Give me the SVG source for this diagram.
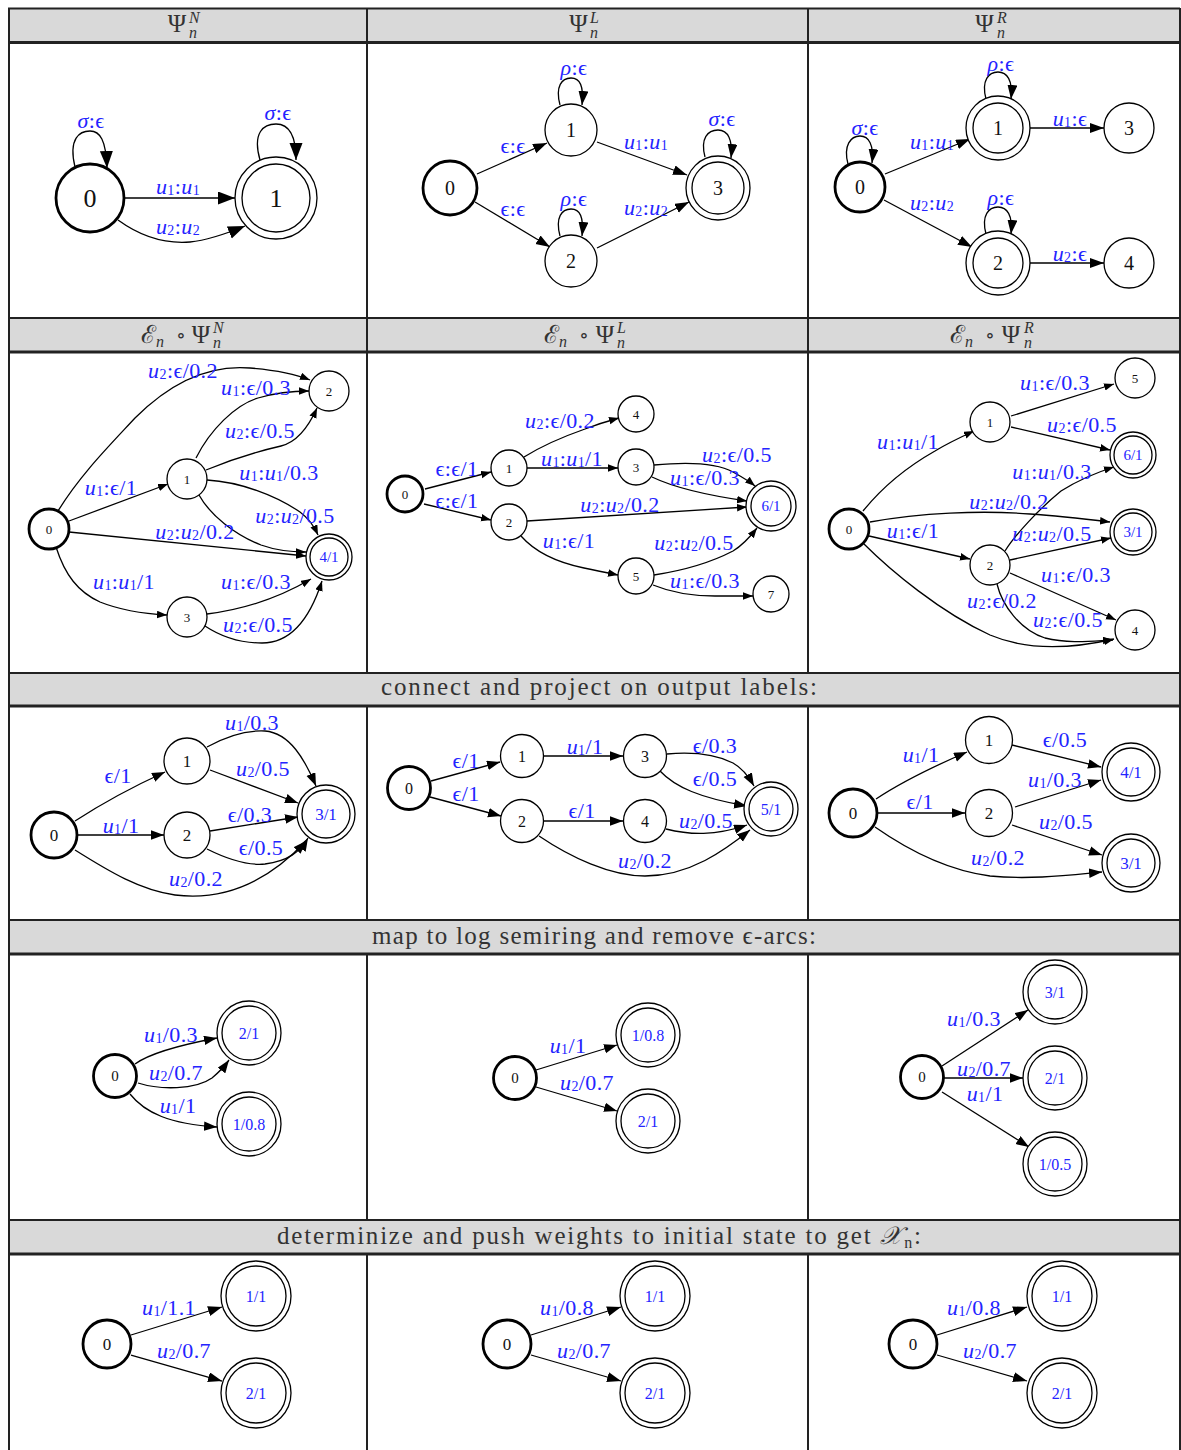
<svg xmlns="http://www.w3.org/2000/svg" width="1181" height="1450" viewBox="0 0 1181 1450">
<defs>
<style>
.hdr{fill:#d9d9d9}
.g2{stroke:#222;stroke-width:2;fill:none}
.g3{stroke:#222;stroke-width:3;fill:none}
.ht{font-family:"Liberation Serif","DejaVu Serif",serif;fill:#333}
.hm{text-anchor:middle}
.e{fill:none;stroke:#000;stroke-width:1.3}
.n{fill:#fff;stroke:#000;stroke-width:1.3}
.b{stroke-width:2.8}
.nt{font-family:"Liberation Serif","DejaVu Serif",serif;fill:#111;text-anchor:middle;dominant-baseline:central}
.f{fill:#2424ff}
.l{font-family:"Liberation Serif","DejaVu Serif",serif;font-size:22px;letter-spacing:0.4px;fill:#2424ff;text-anchor:middle;dominant-baseline:central}
.i{font-style:italic}
.s{font-size:14px}
.a1{marker-end:url(#m1)}
.a2{marker-end:url(#m2)}
.a3{marker-end:url(#m3)}
.a4{marker-end:url(#m4)}
</style>
<marker id="m1" markerWidth="18" markerHeight="14" refX="17" refY="6.5" orient="auto" markerUnits="userSpaceOnUse"><path d="M0,0 L17,6.5 L0,13 z" fill="#000"/></marker>
<marker id="m2" markerWidth="15" markerHeight="11" refX="14" refY="5" orient="auto" markerUnits="userSpaceOnUse"><path d="M0,0 L14,5 L0,10 z" fill="#000"/></marker>
<marker id="m3" markerWidth="11" markerHeight="8" refX="10" refY="3.75" orient="auto" markerUnits="userSpaceOnUse"><path d="M0,0 L10,3.75 L0,7.5 z" fill="#000"/></marker>
<marker id="m4" markerWidth="14" markerHeight="10" refX="13" refY="4.75" orient="auto" markerUnits="userSpaceOnUse"><path d="M0,0 L13,4.75 L0,9.5 z" fill="#000"/></marker>
</defs>
<rect width="1181" height="1450" fill="#fff"/>

<g id="table">
<rect class="hdr" x="8" y="8" width="1172" height="34"/>
<rect class="hdr" x="8" y="318" width="1172" height="34"/>
<rect class="hdr" x="8" y="673" width="1172" height="33"/>
<rect class="hdr" x="8" y="920" width="1172" height="34"/>
<rect class="hdr" x="8" y="1220" width="1172" height="34"/>
<path class="g2" d="M8,8.5H1180M8,318H1180M8,673H1180M8,920H1180M8,1220H1180"/>
<path class="g3" d="M8,42.5H1180M8,352H1180M8,706H1180M8,954H1180M8,1254H1180"/>
<path class="g2" d="M9,8V1450M1180,8V1450M367,8V673M808,8V673M367,706V920M808,706V920M367,954V1220M808,954V1220M367,1254V1450M808,1254V1450"/>
</g>

<g id="headers">
<text class="ht hm" x="177" y="32" font-size="25">Ψ</text>
<text class="ht i" x="189" y="23" font-size="16">N</text>
<text class="ht i" x="189" y="38" font-size="16">n</text>
<text class="ht hm" x="578.5" y="32" font-size="25">Ψ</text>
<text class="ht i" x="590" y="23" font-size="16">L</text>
<text class="ht i" x="590" y="38" font-size="16">n</text>
<text class="ht hm" x="984.5" y="32" font-size="25">Ψ</text>
<text class="ht i" x="997" y="23" font-size="16">R</text>
<text class="ht i" x="997" y="38" font-size="16">n</text>

<text class="ht hm" x="148" y="343" font-size="25">ℰ</text>
<text class="ht i" x="156" y="347" font-size="16">n</text>
<text class="ht hm" x="181" y="342" font-size="20">∘</text>
<text class="ht hm" x="201" y="343" font-size="25">Ψ</text>
<text class="ht i" x="213" y="333" font-size="16">N</text>
<text class="ht i" x="213" y="348" font-size="16">n</text>

<text class="ht hm" x="551" y="343" font-size="25">ℰ</text>
<text class="ht i" x="559" y="347" font-size="16">n</text>
<text class="ht hm" x="584" y="342" font-size="20">∘</text>
<text class="ht hm" x="605" y="343" font-size="25">Ψ</text>
<text class="ht i" x="617" y="333" font-size="16">L</text>
<text class="ht i" x="617" y="348" font-size="16">n</text>

<text class="ht hm" x="957" y="343" font-size="25">ℰ</text>
<text class="ht i" x="965" y="347" font-size="16">n</text>
<text class="ht hm" x="990" y="342" font-size="20">∘</text>
<text class="ht hm" x="1011" y="343" font-size="25">Ψ</text>
<text class="ht i" x="1024" y="333" font-size="16">R</text>
<text class="ht i" x="1024" y="348" font-size="16">n</text>

<text class="ht" x="381" y="695" font-size="25" textLength="436" lengthAdjust="spacing">connect and project on output labels:</text>
<text class="ht" x="372" y="944" font-size="25" textLength="444" lengthAdjust="spacing">map to log semiring and remove ϵ-arcs:</text>
<text class="ht" x="277" y="1244" font-size="25" textLength="644" lengthAdjust="spacing">determinize and push weights to initial state to get <tspan class="i">𝒳</tspan><tspan font-size="16" dy="4">n</tspan><tspan dy="-4">:</tspan></text>
</g>

<!-- Panel 1 -->
<g id="p1">
<g id="p1-edges">
<path class="e a1" d="M75,167 C68,138 80,131 90,131 C100,131 106,140 107,168"/>
<text class="l" x="91" y="120"><tspan class="i">σ</tspan>:ϵ</text>
<path class="e a1" d="M260,160 C252,132 264,124 276,124 C288,124 296,134 296,160"/>
<text class="l" x="278" y="112"><tspan class="i">σ</tspan>:ϵ</text>
<path class="e a1" d="M124,198 L235,198"/>
<text class="l" x="178" y="186"><tspan class="i">u</tspan><tspan class="s" dy="4">1</tspan><tspan dy="-4">:</tspan><tspan class="i">u</tspan><tspan class="s" dy="4">1</tspan></text>
<path class="e a1" d="M118,220 C140,236 165,244 190,242 C210,240 228,233 245,226"/>
<text class="l" x="178" y="226"><tspan class="i">u</tspan><tspan class="s" dy="4">2</tspan><tspan dy="-4">:</tspan><tspan class="i">u</tspan><tspan class="s" dy="4">2</tspan></text>
</g>
<g id="p1-n0"><circle class="n b" cx="90" cy="198" r="34"/><text class="nt" x="90" y="198" font-size="26">0</text></g>
<g id="p1-n1"><circle class="n" cx="276" cy="198" r="41"/><circle class="n" cx="276" cy="198" r="34"/><text class="nt" x="276" y="198" font-size="26">1</text></g>
</g>

<!-- Panel 2 -->
<g id="p2">
<g id="p2-edges">
<path class="e a2" d="M560,105 C555,86 562,78 571,78 C580,78 584,86 582,105"/>
<text class="l" x="574" y="67"><tspan class="i">ρ</tspan>:ϵ</text>
<path class="e a2" d="M560,236 C555,217 562,209 571,209 C580,209 584,217 582,236"/>
<text class="l" x="574" y="198"><tspan class="i">ρ</tspan>:ϵ</text>
<path class="e a2" d="M705,157 C700,138 708,130 718,130 C728,130 733,140 731,158"/>
<text class="l" x="722" y="118"><tspan class="i">σ</tspan>:ϵ</text>
<path class="e a2" d="M477,174 L547,143"/>
<text class="l" x="513" y="145">ϵ:ϵ</text>
<path class="e a2" d="M475,202 L550,247"/>
<text class="l" x="513" y="208">ϵ:ϵ</text>
<path class="e a2" d="M597,142 L687,175"/>
<text class="l" x="646" y="141"><tspan class="i">u</tspan><tspan class="s" dy="4">1</tspan><tspan dy="-4">:</tspan><tspan class="i">u</tspan><tspan class="s" dy="4">1</tspan></text>
<path class="e a2" d="M597,248 L689,202"/>
<text class="l" x="646" y="207"><tspan class="i">u</tspan><tspan class="s" dy="4">2</tspan><tspan dy="-4">:</tspan><tspan class="i">u</tspan><tspan class="s" dy="4">2</tspan></text>
</g>
<g id="p2-n0"><circle class="n b" cx="450" cy="188" r="27"/><text class="nt" x="450" y="188" font-size="20">0</text></g>
<g id="p2-n1"><circle class="n" cx="571" cy="130" r="26"/><text class="nt" x="571" y="130" font-size="20">1</text></g>
<g id="p2-n2"><circle class="n" cx="571" cy="261" r="26"/><text class="nt" x="571" y="261" font-size="20">2</text></g>
<g id="p2-n3"><circle class="n" cx="718" cy="188" r="32"/><circle class="n" cx="718" cy="188" r="26"/><text class="nt" x="718" y="188" font-size="20">3</text></g>
</g>

<!-- Panel 3 -->
<g id="p3">
<g id="p3-edges">
<path class="e a2" d="M848,164 C843,145 851,136 860,136 C869,136 874,145 872,163"/>
<text class="l" x="865" y="127"><tspan class="i">σ</tspan>:ϵ</text>
<path class="e a2" d="M986,99 C981,80 989,72 998,72 C1007,72 1013,80 1011,99"/>
<text class="l" x="1001" y="63"><tspan class="i">ρ</tspan>:ϵ</text>
<path class="e a2" d="M986,234 C981,215 989,207 998,207 C1007,207 1013,215 1011,234"/>
<text class="l" x="1001" y="197"><tspan class="i">ρ</tspan>:ϵ</text>
<path class="e a2" d="M885,174 L970,139"/>
<text class="l" x="932" y="141"><tspan class="i">u</tspan><tspan class="s" dy="4">1</tspan><tspan dy="-4">:</tspan><tspan class="i">u</tspan><tspan class="s" dy="4">1</tspan></text>
<path class="e a2" d="M884,200 L972,247"/>
<text class="l" x="932" y="202"><tspan class="i">u</tspan><tspan class="s" dy="4">2</tspan><tspan dy="-4">:</tspan><tspan class="i">u</tspan><tspan class="s" dy="4">2</tspan></text>
<path class="e a2" d="M1030,128 L1104,128"/>
<text class="l" x="1070" y="118"><tspan class="i">u</tspan><tspan class="s" dy="4">1</tspan><tspan dy="-4">:ϵ</tspan></text>
<path class="e a2" d="M1030,263 L1104,263"/>
<text class="l" x="1070" y="253"><tspan class="i">u</tspan><tspan class="s" dy="4">2</tspan><tspan dy="-4">:ϵ</tspan></text>
</g>
<g id="p3-n0"><circle class="n b" cx="860" cy="187" r="25"/><text class="nt" x="860" y="187" font-size="20">0</text></g>
<g id="p3-n1"><circle class="n" cx="998" cy="128" r="32"/><circle class="n" cx="998" cy="128" r="25"/><text class="nt" x="998" y="128" font-size="20">1</text></g>
<g id="p3-n2"><circle class="n" cx="998" cy="263" r="32"/><circle class="n" cx="998" cy="263" r="25"/><text class="nt" x="998" y="263" font-size="20">2</text></g>
<g id="p3-n3"><circle class="n" cx="1129" cy="128" r="25"/><text class="nt" x="1129" y="128" font-size="20">3</text></g>
<g id="p3-n4"><circle class="n" cx="1129" cy="263" r="25"/><text class="nt" x="1129" y="263" font-size="20">4</text></g>
</g>

<!-- Panel 4 -->
<g id="p4">
<g id="p4-edges">
<path class="e a3" d="M58,511 C80,475 110,445 135,418 C175,378 215,365 250,368 C275,370 295,374 310,380"/>
<text class="l" x="183" y="370"><tspan class="i">u</tspan><tspan class="s" dy="4">2</tspan><tspan dy="-4">:ϵ/0.2</tspan></text>
<path class="e a3" d="M196,458 C210,430 235,405 258,398 C275,393 292,391 309,391"/>
<text class="l" x="256" y="387"><tspan class="i">u</tspan><tspan class="s" dy="4">1</tspan><tspan dy="-4">:ϵ/0.3</tspan></text>
<path class="e a3" d="M206,470 C230,460 255,452 281,446 C297,442 308,428 317,408"/>
<text class="l" x="260" y="430"><tspan class="i">u</tspan><tspan class="s" dy="4">2</tspan><tspan dy="-4">:ϵ/0.5</tspan></text>
<path class="e a3" d="M207,480 C240,482 275,495 300,512 C308,518 314,526 318,535"/>
<text class="l" x="279" y="472"><tspan class="i">u</tspan><tspan class="s" dy="4">1</tspan><tspan dy="-4">:</tspan><tspan class="i">u</tspan><tspan class="s" dy="4">1</tspan><tspan dy="-4">/0.3</tspan></text>
<path class="e a3" d="M199,495 C210,515 235,535 261,545 C275,550 290,552 306,552"/>
<text class="l" x="295" y="515"><tspan class="i">u</tspan><tspan class="s" dy="4">2</tspan><tspan dy="-4">:</tspan><tspan class="i">u</tspan><tspan class="s" dy="4">2</tspan><tspan dy="-4">/0.5</tspan></text>
<path class="e a3" d="M69,521 L168,484"/>
<text class="l" x="111" y="487"><tspan class="i">u</tspan><tspan class="s" dy="4">1</tspan><tspan dy="-4">:ϵ/1</tspan></text>
<path class="e a3" d="M69,532 L306,556"/>
<text class="l" x="195" y="531"><tspan class="i">u</tspan><tspan class="s" dy="4">2</tspan><tspan dy="-4">:</tspan><tspan class="i">u</tspan><tspan class="s" dy="4">2</tspan><tspan dy="-4">/0.2</tspan></text>
<path class="e a3" d="M56,547 C65,575 78,592 100,602 C125,612 148,614 167,615"/>
<text class="l" x="124" y="581"><tspan class="i">u</tspan><tspan class="s" dy="4">1</tspan><tspan dy="-4">:</tspan><tspan class="i">u</tspan><tspan class="s" dy="4">1</tspan><tspan dy="-4">/1</tspan></text>
<path class="e a3" d="M207,614 C240,610 275,600 311,579"/>
<text class="l" x="256" y="581"><tspan class="i">u</tspan><tspan class="s" dy="4">1</tspan><tspan dy="-4">:ϵ/0.3</tspan></text>
<path class="e a3" d="M205,626 C220,636 240,643 262,643 C295,643 312,612 322,581"/>
<text class="l" x="258" y="624"><tspan class="i">u</tspan><tspan class="s" dy="4">2</tspan><tspan dy="-4">:ϵ/0.5</tspan></text>
</g>
<g id="p4-n0"><circle class="n b" cx="49" cy="529" r="20"/><text class="nt" x="49" y="529" font-size="13">0</text></g>
<g id="p4-n1"><circle class="n" cx="187" cy="479" r="20"/><text class="nt" x="187" y="479" font-size="13">1</text></g>
<g id="p4-n2"><circle class="n" cx="329" cy="391" r="20"/><text class="nt" x="329" y="391" font-size="13">2</text></g>
<g id="p4-n3"><circle class="n" cx="187" cy="617" r="20"/><text class="nt" x="187" y="617" font-size="13">3</text></g>
<g id="p4-n4"><circle class="n" cx="329" cy="557" r="23"/><circle class="n" cx="329" cy="557" r="19"/><text class="nt f" x="329" y="557" font-size="15">4/1</text></g>
</g>

<!-- Panel 5 -->
<g id="p5">
<g id="p5-edges">
<path class="e a3" d="M425,489 L491,472"/>
<text class="l" x="457" y="468">ϵ:ϵ/1</text>
<path class="e a3" d="M424,504 L491,520"/>
<text class="l" x="457" y="500">ϵ:ϵ/1</text>
<path class="e a3" d="M524,457 C540,447 565,436 585,429 C598,424 608,421 619,418"/>
<text class="l" x="560" y="420"><tspan class="i">u</tspan><tspan class="s" dy="4">2</tspan><tspan dy="-4">:ϵ/0.2</tspan></text>
<path class="e a3" d="M527,468 L618,468"/>
<text class="l" x="572" y="458"><tspan class="i">u</tspan><tspan class="s" dy="4">1</tspan><tspan dy="-4">:</tspan><tspan class="i">u</tspan><tspan class="s" dy="4">1</tspan><tspan dy="-4">/1</tspan></text>
<path class="e a3" d="M654,465 C685,462 715,462 733,472 C742,477 749,481 755,486"/>
<text class="l" x="737" y="454"><tspan class="i">u</tspan><tspan class="s" dy="4">2</tspan><tspan dy="-4">:ϵ/0.5</tspan></text>
<path class="e a3" d="M652,477 C675,488 705,495 747,501"/>
<text class="l" x="705" y="477"><tspan class="i">u</tspan><tspan class="s" dy="4">1</tspan><tspan dy="-4">:ϵ/0.3</tspan></text>
<path class="e a3" d="M527,521 L747,507"/>
<text class="l" x="620" y="504"><tspan class="i">u</tspan><tspan class="s" dy="4">2</tspan><tspan dy="-4">:</tspan><tspan class="i">u</tspan><tspan class="s" dy="4">2</tspan><tspan dy="-4">/0.2</tspan></text>
<path class="e a3" d="M521,536 C535,552 555,562 584,568 C598,571 608,573 618,575"/>
<text class="l" x="569" y="540"><tspan class="i">u</tspan><tspan class="s" dy="4">1</tspan><tspan dy="-4">:ϵ/1</tspan></text>
<path class="e a3" d="M654,575 C680,571 710,563 733,551 C743,545 750,537 757,528"/>
<text class="l" x="694" y="542"><tspan class="i">u</tspan><tspan class="s" dy="4">2</tspan><tspan dy="-4">:</tspan><tspan class="i">u</tspan><tspan class="s" dy="4">2</tspan><tspan dy="-4">/0.5</tspan></text>
<path class="e a3" d="M653,585 C670,592 690,596 715,596 L753,596"/>
<text class="l" x="705" y="580"><tspan class="i">u</tspan><tspan class="s" dy="4">1</tspan><tspan dy="-4">:ϵ/0.3</tspan></text>
</g>
<g id="p5-n0"><circle class="n b" cx="405" cy="494" r="18"/><text class="nt" x="405" y="494" font-size="13">0</text></g>
<g id="p5-n1"><circle class="n" cx="509" cy="468" r="18"/><text class="nt" x="509" y="468" font-size="13">1</text></g>
<g id="p5-n2"><circle class="n" cx="509" cy="522" r="18"/><text class="nt" x="509" y="522" font-size="13">2</text></g>
<g id="p5-n3"><circle class="n" cx="636" cy="467" r="18"/><text class="nt" x="636" y="467" font-size="13">3</text></g>
<g id="p5-n4"><circle class="n" cx="636" cy="414" r="18"/><text class="nt" x="636" y="414" font-size="13">4</text></g>
<g id="p5-n5"><circle class="n" cx="636" cy="576" r="18"/><text class="nt" x="636" y="576" font-size="13">5</text></g>
<g id="p5-n6"><circle class="n" cx="771" cy="506" r="25"/><circle class="n" cx="771" cy="506" r="20"/><text class="nt f" x="771" y="506" font-size="15">6/1</text></g>
<g id="p5-n7"><circle class="n" cx="771" cy="594" r="18"/><text class="nt" x="771" y="594" font-size="13">7</text></g>
</g>

<!-- Panel 6 -->
<g id="p6">
<g id="p6-edges">
<path class="e a3" d="M863,511 C880,490 905,468 935,451 C948,443 961,437 974,431"/>
<text class="l" x="908" y="441"><tspan class="i">u</tspan><tspan class="s" dy="4">1</tspan><tspan dy="-4">:</tspan><tspan class="i">u</tspan><tspan class="s" dy="4">1</tspan><tspan dy="-4">/1</tspan></text>
<path class="e a3" d="M1011,416 L1114,384"/>
<text class="l" x="1055" y="382"><tspan class="i">u</tspan><tspan class="s" dy="4">1</tspan><tspan dy="-4">:ϵ/0.3</tspan></text>
<path class="e a3" d="M1011,427 L1110,450"/>
<text class="l" x="1082" y="424"><tspan class="i">u</tspan><tspan class="s" dy="4">2</tspan><tspan dy="-4">:ϵ/0.5</tspan></text>
<path class="e a3" d="M1005,551 C1015,535 1040,508 1061,491 C1080,479 1098,472 1114,467"/>
<text class="l" x="1052" y="471"><tspan class="i">u</tspan><tspan class="s" dy="4">1</tspan><tspan dy="-4">:</tspan><tspan class="i">u</tspan><tspan class="s" dy="4">1</tspan><tspan dy="-4">/0.3</tspan></text>
<path class="e a3" d="M870,522 C920,513 980,510 1030,514 C1060,516 1085,519 1110,522"/>
<text class="l" x="1009" y="501"><tspan class="i">u</tspan><tspan class="s" dy="4">2</tspan><tspan dy="-4">:</tspan><tspan class="i">u</tspan><tspan class="s" dy="4">2</tspan><tspan dy="-4">/0.2</tspan></text>
<path class="e a3" d="M869,536 L970,559"/>
<text class="l" x="913" y="530"><tspan class="i">u</tspan><tspan class="s" dy="4">1</tspan><tspan dy="-4">:ϵ/1</tspan></text>
<path class="e a3" d="M1010,560 L1111,538"/>
<text class="l" x="1052" y="533"><tspan class="i">u</tspan><tspan class="s" dy="4">2</tspan><tspan dy="-4">:</tspan><tspan class="i">u</tspan><tspan class="s" dy="4">2</tspan><tspan dy="-4">/0.5</tspan></text>
<path class="e a3" d="M1010,573 L1116,620"/>
<text class="l" x="1076" y="574"><tspan class="i">u</tspan><tspan class="s" dy="4">1</tspan><tspan dy="-4">:ϵ/0.3</tspan></text>
<path class="e a3" d="M997,584 C1002,605 1020,630 1045,638 C1070,644 1092,641 1113,640"/>
<text class="l" x="1068" y="619"><tspan class="i">u</tspan><tspan class="s" dy="4">2</tspan><tspan dy="-4">:ϵ/0.5</tspan></text>
<path class="e a3" d="M864,544 C890,570 940,612 990,635 C1030,652 1075,648 1114,639"/>
<text class="l" x="1002" y="600"><tspan class="i">u</tspan><tspan class="s" dy="4">2</tspan><tspan dy="-4">:ϵ/0.2</tspan></text>
</g>
<g id="p6-n0"><circle class="n b" cx="849" cy="529" r="20"/><text class="nt" x="849" y="529" font-size="13">0</text></g>
<g id="p6-n1"><circle class="n" cx="990" cy="422" r="20"/><text class="nt" x="990" y="422" font-size="13">1</text></g>
<g id="p6-n2"><circle class="n" cx="990" cy="565" r="20"/><text class="nt" x="990" y="565" font-size="13">2</text></g>
<g id="p6-n3"><circle class="n" cx="1133" cy="532" r="23"/><circle class="n" cx="1133" cy="532" r="19"/><text class="nt f" x="1133" y="532" font-size="15">3/1</text></g>
<g id="p6-n4"><circle class="n" cx="1135" cy="630" r="20"/><text class="nt" x="1135" y="630" font-size="13">4</text></g>
<g id="p6-n5"><circle class="n" cx="1135" cy="378" r="20"/><text class="nt" x="1135" y="378" font-size="13">5</text></g>
<g id="p6-n6"><circle class="n" cx="1133" cy="455" r="23"/><circle class="n" cx="1133" cy="455" r="19"/><text class="nt f" x="1133" y="455" font-size="15">6/1</text></g>
</g>

<!-- Panel 7 -->
<g id="p7">
<g id="p7-edges">
<path class="e a4" d="M75,821 C95,808 130,788 165,772"/>
<text class="l" x="118" y="775">ϵ/1</text>
<path class="e a4" d="M77,835 L164,835"/>
<text class="l" x="121" y="825"><tspan class="i">u</tspan><tspan class="s" dy="4">1</tspan><tspan dy="-4">/1</tspan></text>
<path class="e a4" d="M207,747 C225,737 245,730 265,731 C290,733 305,760 316,786"/>
<text class="l" x="252" y="722"><tspan class="i">u</tspan><tspan class="s" dy="4">1</tspan><tspan dy="-4">/0.3</tspan></text>
<path class="e a4" d="M210,770 L298,803"/>
<text class="l" x="263" y="768"><tspan class="i">u</tspan><tspan class="s" dy="4">2</tspan><tspan dy="-4">/0.5</tspan></text>
<path class="e a4" d="M210,831 L298,817"/>
<text class="l" x="250" y="814">ϵ/0.3</text>
<path class="e a4" d="M207,849 C225,858 245,866 265,864 C288,861 300,852 308,838"/>
<text class="l" x="261" y="847">ϵ/0.5</text>
<path class="e a4" d="M75,850 C110,872 140,890 175,895 C215,900 260,890 306,841"/>
<text class="l" x="196" y="878"><tspan class="i">u</tspan><tspan class="s" dy="4">2</tspan><tspan dy="-4">/0.2</tspan></text>
</g>
<g id="p7-n0"><circle class="n b" cx="54" cy="835" r="23"/><text class="nt" x="54" y="835" font-size="17">0</text></g>
<g id="p7-n1"><circle class="n" cx="187" cy="761" r="23"/><text class="nt" x="187" y="761" font-size="17">1</text></g>
<g id="p7-n2"><circle class="n" cx="187" cy="835" r="23"/><text class="nt" x="187" y="835" font-size="17">2</text></g>
<g id="p7-n3"><circle class="n" cx="326" cy="814" r="29"/><circle class="n" cx="326" cy="814" r="24"/><text class="nt f" x="326" y="814" font-size="17">3/1</text></g>
</g>

<!-- Panel 8 -->
<g id="p8">
<g id="p8-edges">
<path class="e a4" d="M431,781 L500,762"/>
<text class="l" x="466" y="760">ϵ/1</text>
<path class="e a4" d="M430,797 L501,816"/>
<text class="l" x="466" y="793">ϵ/1</text>
<path class="e a4" d="M544,756 L623,756"/>
<text class="l" x="585" y="746"><tspan class="i">u</tspan><tspan class="s" dy="4">1</tspan><tspan dy="-4">/1</tspan></text>
<path class="e a4" d="M544,821 L623,821"/>
<text class="l" x="582" y="810">ϵ/1</text>
<path class="e a4" d="M667,754 C690,752 715,754 733,763 C742,768 749,777 754,786"/>
<text class="l" x="715" y="745">ϵ/0.3</text>
<path class="e a4" d="M660,771 C675,787 700,798 747,806"/>
<text class="l" x="715" y="778">ϵ/0.5</text>
<path class="e a4" d="M666,829 C690,835 715,836 747,825"/>
<text class="l" x="706" y="820"><tspan class="i">u</tspan><tspan class="s" dy="4">2</tspan><tspan dy="-4">/0.5</tspan></text>
<path class="e a4" d="M539,836 C570,857 610,876 645,876 C690,876 725,850 750,830"/>
<text class="l" x="645" y="860"><tspan class="i">u</tspan><tspan class="s" dy="4">2</tspan><tspan dy="-4">/0.2</tspan></text>
</g>
<g id="p8-n0"><circle class="n b" cx="409" cy="788" r="21.5"/><text class="nt" x="409" y="788" font-size="16">0</text></g>
<g id="p8-n1"><circle class="n" cx="522" cy="756" r="21.5"/><text class="nt" x="522" y="756" font-size="16">1</text></g>
<g id="p8-n2"><circle class="n" cx="522" cy="821" r="21.5"/><text class="nt" x="522" y="821" font-size="16">2</text></g>
<g id="p8-n3"><circle class="n" cx="645" cy="756" r="21.5"/><text class="nt" x="645" y="756" font-size="16">3</text></g>
<g id="p8-n4"><circle class="n" cx="645" cy="821" r="21.5"/><text class="nt" x="645" y="821" font-size="16">4</text></g>
<g id="p8-n5"><circle class="n" cx="771" cy="809" r="27"/><circle class="n" cx="771" cy="809" r="22"/><text class="nt f" x="771" y="809" font-size="16">5/1</text></g>
</g>

<!-- Panel 9 -->
<g id="p9">
<g id="p9-edges">
<path class="e a4" d="M876,799 C900,783 930,768 967,752"/>
<text class="l" x="921" y="754"><tspan class="i">u</tspan><tspan class="s" dy="4">1</tspan><tspan dy="-4">/1</tspan></text>
<path class="e a4" d="M877,813 L965,813"/>
<text class="l" x="920" y="801">ϵ/1</text>
<path class="e a4" d="M1012,745 L1101,767"/>
<text class="l" x="1065" y="739">ϵ/0.5</text>
<path class="e a4" d="M1015,807 L1101,780"/>
<text class="l" x="1055" y="779"><tspan class="i">u</tspan><tspan class="s" dy="4">1</tspan><tspan dy="-4">/0.3</tspan></text>
<path class="e a4" d="M1012,825 L1102,855"/>
<text class="l" x="1066" y="821"><tspan class="i">u</tspan><tspan class="s" dy="4">2</tspan><tspan dy="-4">/0.5</tspan></text>
<path class="e a4" d="M875,827 C905,848 945,870 990,876 C1030,880 1070,875 1102,872"/>
<text class="l" x="998" y="857"><tspan class="i">u</tspan><tspan class="s" dy="4">2</tspan><tspan dy="-4">/0.2</tspan></text>
</g>
<g id="p9-n0"><circle class="n b" cx="853" cy="813" r="24"/><text class="nt" x="853" y="813" font-size="17">0</text></g>
<g id="p9-n1"><circle class="n" cx="989" cy="740" r="23.5"/><text class="nt" x="989" y="740" font-size="17">1</text></g>
<g id="p9-n2"><circle class="n" cx="989" cy="813" r="23.5"/><text class="nt" x="989" y="813" font-size="17">2</text></g>
<g id="p9-n4"><circle class="n" cx="1131" cy="772" r="29"/><circle class="n" cx="1131" cy="772" r="24"/><text class="nt f" x="1131" y="772" font-size="17">4/1</text></g>
<g id="p9-n3"><circle class="n" cx="1131" cy="863" r="29"/><circle class="n" cx="1131" cy="863" r="24"/><text class="nt f" x="1131" y="863" font-size="17">3/1</text></g>
</g>

<!-- Panel 10 -->
<g id="p10">
<g id="p10-edges">
<path class="e a4" d="M135,1064 C150,1053 180,1045 217,1038"/>
<text class="l" x="171" y="1034"><tspan class="i">u</tspan><tspan class="s" dy="4">1</tspan><tspan dy="-4">/0.3</tspan></text>
<path class="e a4" d="M138,1083 C160,1090 195,1090 212,1078 C218,1073 224,1067 229,1060"/>
<text class="l" x="176" y="1072"><tspan class="i">u</tspan><tspan class="s" dy="4">2</tspan><tspan dy="-4">/0.7</tspan></text>
<path class="e a4" d="M130,1094 C145,1113 170,1124 217,1127"/>
<text class="l" x="178" y="1105"><tspan class="i">u</tspan><tspan class="s" dy="4">1</tspan><tspan dy="-4">/1</tspan></text>
</g>
<g id="p10-n0"><circle class="n b" cx="115" cy="1076" r="21.5"/><text class="nt" x="115" y="1076" font-size="15">0</text></g>
<g id="p10-n2"><circle class="n" cx="249" cy="1033" r="32"/><circle class="n" cx="249" cy="1033" r="27"/><text class="nt f" x="249" y="1033" font-size="16">2/1</text></g>
<g id="p10-n1"><circle class="n" cx="249" cy="1124" r="32"/><circle class="n" cx="249" cy="1124" r="27"/><text class="nt f" x="249" y="1124" font-size="16">1/0.8</text></g>
</g>

<!-- Panel 11 -->
<g id="p11">
<g id="p11-edges">
<path class="e a4" d="M536,1070 L617,1045"/>
<text class="l" x="568" y="1045"><tspan class="i">u</tspan><tspan class="s" dy="4">1</tspan><tspan dy="-4">/1</tspan></text>
<path class="e a4" d="M536,1087 L617,1111"/>
<text class="l" x="587" y="1082"><tspan class="i">u</tspan><tspan class="s" dy="4">2</tspan><tspan dy="-4">/0.7</tspan></text>
</g>
<g id="p11-n0"><circle class="n b" cx="515" cy="1078" r="21.5"/><text class="nt" x="515" y="1078" font-size="15">0</text></g>
<g id="p11-n1"><circle class="n" cx="648" cy="1035" r="32"/><circle class="n" cx="648" cy="1035" r="27"/><text class="nt f" x="648" y="1035" font-size="16">1/0.8</text></g>
<g id="p11-n2"><circle class="n" cx="648" cy="1121" r="32"/><circle class="n" cx="648" cy="1121" r="27"/><text class="nt f" x="648" y="1121" font-size="16">2/1</text></g>
</g>

<!-- Panel 12 -->
<g id="p12">
<g id="p12-edges">
<path class="e a4" d="M942,1066 L1028,1010"/>
<text class="l" x="974" y="1018"><tspan class="i">u</tspan><tspan class="s" dy="4">1</tspan><tspan dy="-4">/0.3</tspan></text>
<path class="e a4" d="M944,1078 L1023,1078"/>
<text class="l" x="984" y="1068"><tspan class="i">u</tspan><tspan class="s" dy="4">2</tspan><tspan dy="-4">/0.7</tspan></text>
<path class="e a4" d="M942,1092 L1029,1147"/>
<text class="l" x="985" y="1093"><tspan class="i">u</tspan><tspan class="s" dy="4">1</tspan><tspan dy="-4">/1</tspan></text>
</g>
<g id="p12-n0"><circle class="n b" cx="922" cy="1077" r="21.5"/><text class="nt" x="922" y="1077" font-size="15">0</text></g>
<g id="p12-n3"><circle class="n" cx="1055" cy="992" r="32"/><circle class="n" cx="1055" cy="992" r="27"/><text class="nt f" x="1055" y="992" font-size="16">3/1</text></g>
<g id="p12-n2"><circle class="n" cx="1055" cy="1078" r="32"/><circle class="n" cx="1055" cy="1078" r="27"/><text class="nt f" x="1055" y="1078" font-size="16">2/1</text></g>
<g id="p12-n1"><circle class="n" cx="1055" cy="1164" r="32"/><circle class="n" cx="1055" cy="1164" r="27"/><text class="nt f" x="1055" y="1164" font-size="16">1/0.5</text></g>
</g>

<!-- Panel 13 -->
<g id="p13">
<g id="p13-edges">
<path class="e a2" d="M131,1335 L222,1307"/>
<text class="l" x="169" y="1307"><tspan class="i">u</tspan><tspan class="s" dy="4">1</tspan><tspan dy="-4">/1.1</tspan></text>
<path class="e a2" d="M131,1355 L222,1381"/>
<text class="l" x="184" y="1350"><tspan class="i">u</tspan><tspan class="s" dy="4">2</tspan><tspan dy="-4">/0.7</tspan></text>
</g>
<g id="p13-n0"><circle class="n b" cx="107" cy="1344" r="24"/><text class="nt" x="107" y="1344" font-size="17">0</text></g>
<g id="p13-n1"><circle class="n" cx="256" cy="1296" r="35"/><circle class="n" cx="256" cy="1296" r="30"/><text class="nt f" x="256" y="1296" font-size="16">1/1</text></g>
<g id="p13-n2"><circle class="n" cx="256" cy="1393" r="35"/><circle class="n" cx="256" cy="1393" r="30"/><text class="nt f" x="256" y="1393" font-size="16">2/1</text></g>
</g>

<!-- Panel 14 -->
<g id="p14">
<g id="p14-edges">
<path class="e a2" d="M531,1335 L621,1307"/>
<text class="l" x="567" y="1307"><tspan class="i">u</tspan><tspan class="s" dy="4">1</tspan><tspan dy="-4">/0.8</tspan></text>
<path class="e a2" d="M531,1355 L621,1381"/>
<text class="l" x="584" y="1350"><tspan class="i">u</tspan><tspan class="s" dy="4">2</tspan><tspan dy="-4">/0.7</tspan></text>
</g>
<g id="p14-n0"><circle class="n b" cx="507" cy="1344" r="24"/><text class="nt" x="507" y="1344" font-size="17">0</text></g>
<g id="p14-n1"><circle class="n" cx="655" cy="1296" r="35"/><circle class="n" cx="655" cy="1296" r="30"/><text class="nt f" x="655" y="1296" font-size="16">1/1</text></g>
<g id="p14-n2"><circle class="n" cx="655" cy="1393" r="35"/><circle class="n" cx="655" cy="1393" r="30"/><text class="nt f" x="655" y="1393" font-size="16">2/1</text></g>
</g>

<!-- Panel 15 -->
<g id="p15">
<g id="p15-edges">
<path class="e a2" d="M937,1335 L1027,1307"/>
<text class="l" x="974" y="1307"><tspan class="i">u</tspan><tspan class="s" dy="4">1</tspan><tspan dy="-4">/0.8</tspan></text>
<path class="e a2" d="M937,1355 L1027,1381"/>
<text class="l" x="990" y="1350"><tspan class="i">u</tspan><tspan class="s" dy="4">2</tspan><tspan dy="-4">/0.7</tspan></text>
</g>
<g id="p15-n0"><circle class="n b" cx="913" cy="1344" r="24"/><text class="nt" x="913" y="1344" font-size="17">0</text></g>
<g id="p15-n1"><circle class="n" cx="1062" cy="1296" r="35"/><circle class="n" cx="1062" cy="1296" r="30"/><text class="nt f" x="1062" y="1296" font-size="16">1/1</text></g>
<g id="p15-n2"><circle class="n" cx="1062" cy="1393" r="35"/><circle class="n" cx="1062" cy="1393" r="30"/><text class="nt f" x="1062" y="1393" font-size="16">2/1</text></g>
</g>
</svg>
